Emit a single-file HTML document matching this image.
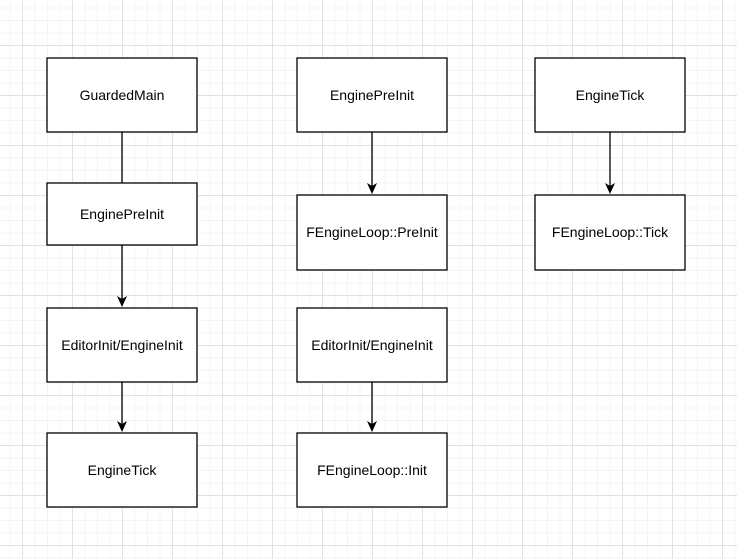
<!DOCTYPE html>
<html><head><meta charset="utf-8"><style>
html,body{margin:0;padding:0;background:#fff;}
svg{display:block;}
text{font-family:"Liberation Sans",Arial,sans-serif;font-size:14px;fill:#000;}
</style></head><body>
<svg width="737" height="559" viewBox="0 0 737 559" xmlns="http://www.w3.org/2000/svg">
<defs>
<pattern id="minor" x="9.5" y="7.5" width="12.5" height="12.5" patternUnits="userSpaceOnUse">
<path d="M0 0.5H12.5M0.5 0V12.5" stroke="#f4f4f4" stroke-width="1" fill="none"/>
</pattern>
<pattern id="major" x="22" y="45" width="50" height="50" patternUnits="userSpaceOnUse">
<path d="M0 0.5H50M0.5 0V50" stroke="#e2e2e2" stroke-width="1" fill="none"/>
</pattern>
</defs>
<rect width="737" height="559" fill="url(#minor)"/>
<rect width="737" height="559" fill="url(#major)"/>
<g stroke="#000" stroke-width="1.3" fill="none">
<line x1="122" y1="132" x2="122" y2="183"/>
<line x1="122" y1="245" x2="122" y2="300"/>
<line x1="122" y1="382" x2="122" y2="425"/>
<line x1="372" y1="132" x2="372" y2="187"/>
<line x1="372" y1="382" x2="372" y2="425"/>
<line x1="610" y1="132" x2="610" y2="187"/>
</g>
<g fill="#000">
<path d="M117 296 L122 307 L127 296 L122 299 Z"/>
<path d="M117 421 L122 432 L127 421 L122 424 Z"/>
<path d="M367 183 L372 194 L377 183 L372 186 Z"/>
<path d="M367 421 L372 432 L377 421 L372 424 Z"/>
<path d="M605 183 L610 194 L615 183 L610 186 Z"/>
</g>
<g stroke="#000" stroke-width="1.3" fill="#fff">
<rect x="47" y="58" width="150" height="74"/>
<rect x="47" y="183" width="150" height="62"/>
<rect x="47" y="308" width="150" height="74"/>
<rect x="47" y="433" width="150" height="74"/>
<rect x="297" y="58" width="150" height="74"/>
<rect x="297" y="195" width="150" height="75"/>
<rect x="297" y="308" width="150" height="74"/>
<rect x="297" y="433" width="150" height="74"/>
<rect x="535" y="58" width="150" height="74"/>
<rect x="535" y="195" width="150" height="75"/>
</g>
<g text-anchor="middle">
<text x="122" y="100">GuardedMain</text>
<text x="122" y="219">EnginePreInit</text>
<text x="122" y="350">EditorInit/EngineInit</text>
<text x="122" y="475">EngineTick</text>
<text x="372" y="100">EnginePreInit</text>
<text x="372" y="237">FEngineLoop::PreInit</text>
<text x="372" y="350">EditorInit/EngineInit</text>
<text x="372" y="475">FEngineLoop::Init</text>
<text x="610" y="100">EngineTick</text>
<text x="610" y="237">FEngineLoop::Tick</text>
</g>
</svg>
</body></html>
